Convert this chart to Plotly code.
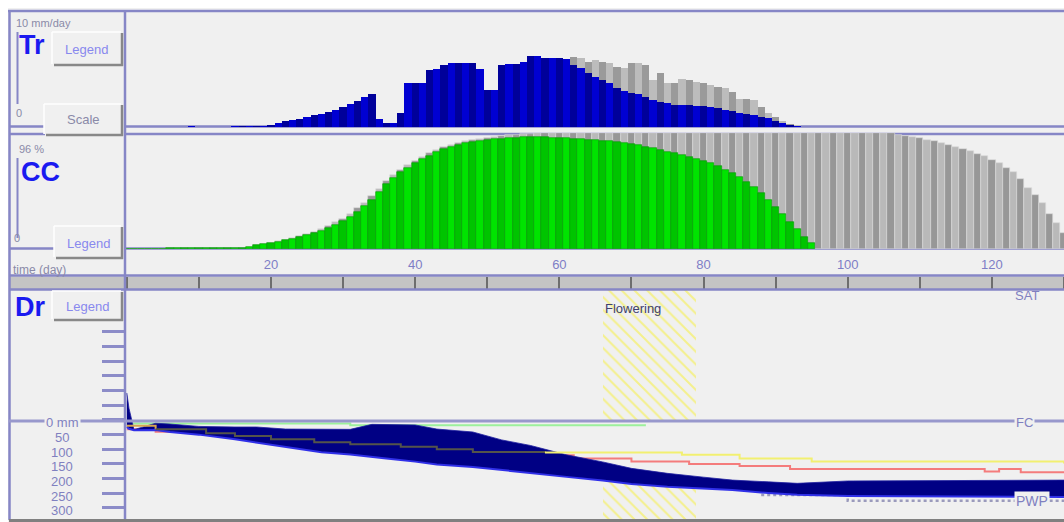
import plotly.graph_objects as go

W, H = 1064, 522

# ---------------- data ----------------
# Transpiration (mm/day), actual from day 0, potential from day 56
tr_actual = [0, 0, 0, 0, 0, 0, 0, 0, 0, 0.05, 0, 0, 0, 0, 0, 0.05, 0.05, 0.05, 0.05, 0.05,
             0.17, 0.37, 0.52, 0.6, 0.7, 0.87, 1.04, 1.17, 1.3, 1.48,
             1.7, 2.0, 2.26, 2.6, 2.87, 0.7, 0.39, 0.39, 1.2, 3.85,
             3.85, 3.85, 4.96, 5.04, 5.4, 5.57, 5.6, 5.6, 5.6, 5.05,
             3.2, 3.2, 5.4, 5.45, 5.48, 5.65, 6.17, 6.17, 6.0, 5.97,
             5.97, 5.9, 5.4, 5.1, 4.7, 4.35, 4.1, 3.85, 3.4, 3.1,
             3.0, 2.85, 2.65, 2.35, 2.2, 2.1, 1.95, 1.9, 1.9, 1.85,
             1.85, 1.75, 1.62, 1.5, 1.35, 1.25, 1.13, 1.05, 0.9, 0.75,
             0.55, 0.38, 0.15, 0.05]
tr_pot_start = 56
tr_potential = [6.17, 6.17, 6.04, 5.97, 5.97, 5.95, 6.1, 5.97, 5.68, 5.83,
                5.68, 5.54, 5.24, 5.1, 5.6, 5.54, 5.4, 4.09, 4.67, 3.8,
                3.8, 4.15, 4.09, 3.94, 3.8, 3.65, 3.45, 3.37, 3.07, 2.41,
                2.41, 2.35, 1.77, 1.19, 0.9, 0.55, 0.26, 0.09]

# Canopy cover (%), actual and potential, from day 0
cc_actual = [0, 0, 0, 0, 0, 0, 0.5, 0.5, 0.5, 0.5, 0.5, 0.5, 0.5, 1, 1, 1, 1,
             2, 3.5, 4.2, 5, 6.4, 7.5, 9, 10.5, 12, 13.5,
             15.5, 18, 21, 24, 28, 32, 37, 42, 49, 56,
             61, 66, 70, 74, 77.5, 80.5, 83.5, 86, 88, 89.5,
             91, 92, 93, 94, 94.5, 95, 95.5, 96, 96.3, 96.5,
             96.5, 96.3, 96, 95.7, 95.4, 95, 94.6, 94.2, 93.8, 93.3,
             92.8, 92.2, 91.4, 90.5, 89.4, 88.2, 86.8, 85.4, 84, 82.5,
             81, 79.5, 78, 76, 74, 71.5, 68.5, 65.5, 62, 58,
             53.5, 48.5, 42.5, 36, 30, 23.5, 17, 10.5, 5]
cc_potential = [0, 0, 0, 0, 0, 0, 0.5, 0.5, 0.5, 0.5, 0.5, 0.5, 0.5, 1, 1, 1, 1,      # 0-16
                2, 3.5, 4.5, 5.5, 7, 8, 9.5, 11, 13, 15,                               # 17-26
                17, 20, 23, 26, 30.5, 35, 40, 45.5, 52, 58.5,                          # 27-36
                63.5, 68, 72, 76, 79.5, 82.5, 85.5, 88, 90, 91.5,                      # 37-46
                93, 94, 95, 96, 96.8, 97.5, 98, 98.5, 99, 99.3,                        # 47-56
                99.6, 100, 100, 100, 100, 100, 100, 100, 100, 100,                     # 57-66
                100, 100, 100, 100, 100, 100, 100, 100, 100, 100,                      # 67-76
                100, 100, 100, 100, 100, 100, 100, 100, 100, 100,                      # 77-86
                100, 100, 100, 100, 100, 100, 100, 100, 100, 100,                      # 87-96
                100, 100, 100, 100, 100, 100, 100, 100, 100, 100,                      # 97-106
                98.5, 97.5, 96.3, 95.3, 94, 92.8, 91.3, 89.6, 88, 86.3,                # 107-116
                84.5, 82.3, 79.8, 77, 73.8, 70.2, 66.5, 60, 53, 46.5,                  # 117-126
                39.5, 30, 22, 14]                                                      # 127-130

# Root zone depletion band (mm below FC)
dr_days = [0, 0.3, 1, 4, 6, 10, 15, 18, 22, 27, 31, 34, 36, 40, 43, 48, 52, 56, 61,
           66, 70, 75, 80, 84, 89, 93, 100, 115, 130]
dr_upper = [-92, -40, 33, 11, 14, 22, 24, 24, 31, 32, 32, 15, 15, 17, 31, 41, 68, 87, 119,
            143, 165, 182, 195, 205, 211, 216, 208, 206, 205]
dr_lower = [24, 30, 35, 34, 41, 50, 66, 77, 93, 110, 118, 127, 131, 142, 152, 160, 171, 180, 194,
            206, 218, 228, 234, 239, 249, 255, 259, 261, 263]

# Thresholds (step lines)
stomata_days = [0, 4, 11, 15, 20, 26, 31, 38, 43, 48, 58, 67, 77, 85, 95, 130]
stomata_thr = [20, 32, 45, 55, 66, 76, 83, 91, 100, 109, 111, 111, 119, 131, 142, 148]
senes_days = [0, 4, 15, 25, 35, 45, 55, 61, 62, 70, 78, 85, 92, 119, 121, 124, 130]
senes_thr = [32, 40, 60, 80, 95, 110, 125, 120, 131, 142, 150, 157, 167, 176, 167, 178, 178]
expan_days = [0, 31, 72]
expan_thr = [12, 18, 18]
pwp_days = [88, 100, 130]
pwp_vals = [256, 275, 275]

flowering = (66, 79)
time_ticks = [20, 40, 60, 80, 100, 120]
minor_day_ticks = list(range(0, 131, 10))
dr_tick_vals = [-300, -250, -200, -150, -100, -50, 0, 50, 100, 150, 200, 250, 300]
dr_label_vals = [0, 50, 100, 150, 200, 250, 300]
dr_label_text = ["0 mm", "50", "100", "150", "200", "250", "300"]

# ---------------- helpers ----------------
def PX(x):
    return x / W

def PY(y):
    return 1 - y / H

DR_RANGE = [341, -443]
XR = [-0.25, 130]
PURPLE = "#8686c6"
FONT = "Liberation Sans"

def alt(n, c1, c2, start=0):
    return [c1 if (i + start) % 2 == 0 else c2 for i in range(n)]

fig = go.Figure()

# Tr
pot_x = list(range(tr_pot_start, tr_pot_start + len(tr_potential)))
fig.add_trace(go.Bar(x=pot_x, y=tr_potential, width=1,
                     marker=dict(color=alt(len(pot_x), "#9a9a9a", "#bcbcbc"), line=dict(width=0)),
                     xaxis="x", yaxis="y", showlegend=False))
fig.add_trace(go.Bar(x=list(range(len(tr_actual))), y=tr_actual, width=1,
                     marker=dict(color=alt(len(tr_actual), "#00009a", "#0000d2"), line=dict(width=0)),
                     xaxis="x", yaxis="y", showlegend=False))
# CC
fig.add_trace(go.Bar(x=list(range(len(cc_potential))), y=cc_potential, width=1,
                     marker=dict(color=alt(len(cc_potential), "#979797", "#b9b9b9"),
                                 line=dict(width=0.6, color="#dcdcdc")),
                     xaxis="x2", yaxis="y2", showlegend=False))
fig.add_trace(go.Bar(x=list(range(len(cc_actual))), y=cc_actual, width=1,
                     marker=dict(color=alt(len(cc_actual), "#00c400", "#00e400"),
                                 line=dict(width=0.6, color="#009a00")),
                     xaxis="x2", yaxis="y2", showlegend=False))
# Flowering hatch
fig.add_trace(go.Bar(x=[(flowering[0] + flowering[1]) / 2], y=[DR_RANGE[0] - DR_RANGE[1]],
                     base=[DR_RANGE[1]], width=[flowering[1] - flowering[0]],
                     marker=dict(color="rgba(0,0,0,0)", line=dict(width=0),
                                 pattern=dict(shape="\\", size=9, solidity=0.22,
                                              fgcolor="#f4f08c", bgcolor="rgba(0,0,0,0)",
                                              fillmode="replace")),
                     xaxis="x3", yaxis="y3", showlegend=False))
# mask between FC and lower band edge
fig.add_trace(go.Scatter(x=[0, 130], y=[0, 0], mode="lines", line=dict(width=0),
                         xaxis="x3", yaxis="y3", showlegend=False, hoverinfo="skip"))
fig.add_trace(go.Scatter(x=dr_days, y=dr_lower, mode="lines", line=dict(width=0),
                         fill="tonexty", fillcolor="#f0f0f0",
                         xaxis="x3", yaxis="y3", showlegend=False, hoverinfo="skip"))
# PWP, senescence, expansion
fig.add_trace(go.Scatter(x=pwp_days, y=pwp_vals, mode="lines", line_shape="hv",
                         line=dict(color="#9a9abc", width=2.5, dash="dot"),
                         xaxis="x3", yaxis="y3", showlegend=False))
fig.add_trace(go.Scatter(x=senes_days, y=senes_thr, mode="lines", line_shape="hv",
                         line=dict(color="#f47c7c", width=2),
                         xaxis="x3", yaxis="y3", showlegend=False))
fig.add_trace(go.Scatter(x=expan_days, y=expan_thr, mode="lines", line_shape="hv",
                         line=dict(color="#9cf09c", width=2),
                         xaxis="x3", yaxis="y3", showlegend=False))
# Dr band
fig.add_trace(go.Scatter(x=dr_days, y=dr_upper, mode="lines", line=dict(width=0.8, color="#2020a0"),
                         xaxis="x3", yaxis="y3", showlegend=False))
fig.add_trace(go.Scatter(x=dr_days, y=dr_lower, mode="lines", line=dict(width=2, color="#3030e8"),
                         fill="tonexty", fillcolor="#000084",
                         xaxis="x3", yaxis="y3", showlegend=False))
# stomata threshold: first segment, hidden-in-band segment, visible segment
fig.add_trace(go.Scatter(x=stomata_days[0:2], y=stomata_thr[0:2], mode="lines", line_shape="hv",
                         line=dict(color="#d6a450", width=2),
                         xaxis="x3", yaxis="y3", showlegend=False))
fig.add_trace(go.Scatter(x=stomata_days[1:11], y=stomata_thr[1:11], mode="lines", line_shape="hv",
                         line=dict(color="#54544a", width=2),
                         xaxis="x3", yaxis="y3", showlegend=False))
fig.add_trace(go.Scatter(x=stomata_days[10:], y=stomata_thr[10:], mode="lines", line_shape="hv",
                         line=dict(color="#f2f070", width=2),
                         xaxis="x3", yaxis="y3", showlegend=False))

xdom = [PX(125), 1]
fig.update_layout(
    width=W, height=H, autosize=False,
    margin=dict(l=0, r=0, t=0, b=0),
    paper_bgcolor="#f0f0f0", plot_bgcolor="rgba(0,0,0,0)",
    barmode="overlay", bargap=0,
    showlegend=False,
    font=dict(family=FONT),
    xaxis=dict(domain=xdom, range=XR, visible=False, anchor="y"),
    yaxis=dict(domain=[PY(127), PY(12)], range=[0, 10], visible=False, anchor="x"),
    xaxis2=dict(domain=xdom, range=XR, visible=False, anchor="y2"),
    yaxis2=dict(domain=[PY(249), PY(133)], range=[0, 100], visible=False, anchor="x2"),
    xaxis3=dict(domain=xdom, range=XR, anchor="y3", side="top", showgrid=False, zeroline=False,
                showline=False, tickmode="array", tickvals=time_ticks,
                ticktext=[str(v) for v in time_ticks],
                ticks="outside", ticklen=12, tickwidth=2, tickcolor="#6e6e6e",
                tickfont=dict(family=FONT, size=13, color="#7e7ec6"), ticklabelstandoff=3,
                minor=dict(tickmode="array", tickvals=minor_day_ticks, ticks="outside",
                           ticklen=12, tickwidth=2, tickcolor="#6e6e6e", showgrid=False)),
    yaxis3=dict(domain=[PY(520), PY(290)], range=DR_RANGE, anchor="x3", showgrid=False,
                zeroline=False, showline=False, tickmode="array", tickvals=dr_tick_vals,
                ticks="outside", ticklen=22, tickwidth=2.5, tickcolor="#8c8cc8",
                showticklabels=False),
)

shapes = []

def line(x0, y0, x1, y1, color=PURPLE, width=2.5, layer="above", dash=None):
    d = dict(type="line", xref="paper", yref="paper", x0=PX(x0), y0=PY(y0), x1=PX(x1), y1=PY(y1),
             line=dict(color=color, width=width), layer=layer)
    if dash:
        d["line"]["dash"] = dash
    shapes.append(d)

def rect(x0, y0, x1, y1, fill, layer="above"):
    shapes.append(dict(type="rect", xref="paper", yref="paper", x0=PX(x0), y0=PY(y0),
                       x1=PX(x1), y1=PY(y1), fillcolor=fill, line=dict(width=0), layer=layer))

# white outer strips
rect(0, 0, 1064, 8, "#ffffff", "below")
rect(0, 0, 8, 522, "#ffffff", "below")
# time bar
rect(9, 276.5, 1064, 289, "#c4c4c4", "below")
# panel borders
line(8, 11, 1064, 11)
line(9.5, 10, 9.5, 520)
line(125, 10, 125, 520)
line(9, 126.5, 45, 126.5)
line(125, 126.5, 1064, 126.5, layer="below")
line(9, 134, 45, 134)
line(125, 134, 1064, 134, layer="below")
line(9, 248.5, 55, 248.5)
line(125, 248.5, 1064, 248.5, layer="below")
line(9, 275.5, 1064, 275.5)
line(9, 289.5, 1064, 289.5)
line(9, 421, 1064, 421, color="#9898cc", width=3)
line(9, 520.5, 1064, 520.5, color="#808080", width=3)
# scale lines in left boxes
line(17.5, 32, 17.5, 104, width=2)
line(17.5, 158, 17.5, 238, width=2)

# buttons
def button(x0, y0, x1, y1):
    rect(x0, y0, x1, y1, "#f0f0f0")
    line(x0, y0, x1, y0, color="#ffffff", width=1.5)
    line(x0, y0, x0, y1, color="#ffffff", width=1.5)
    line(x0 + 2, y1 + 1, x1 + 2, y1 + 1, color="#888888", width=2.5)
    line(x1 + 1, y0 + 1, x1 + 1, y1 + 2, color="#888888", width=2.5)

button(52, 32, 121, 64)
button(44, 104, 121, 134)
button(54, 226, 121, 257)
button(52, 291, 121, 319)

fig.update_layout(shapes=shapes)

ann = []

def text(x, y, s, size=12, color="#8080c0", anchor="left", bold=False, bg=None):
    a = dict(xref="paper", yref="paper", x=PX(x), y=PY(y), text=("<b>%s</b>" % s) if bold else s,
             showarrow=False, xanchor=anchor, yanchor="middle",
             font=dict(family=FONT, size=size, color=color))
    if bg:
        a["bgcolor"] = bg
        a["borderpad"] = 1
    ann.append(a)

text(14, 23, "10 mm/day", 11, "#8a8aa8")
text(17, 45, "Tr", 27, "#1a1af0", bold=True)
text(86.5, 49, "Legend", 13, "#8888ee", "center")
text(14, 113, "0", 11, "#8a8aa8")
text(83, 120, "Scale", 13, "#8a8aa8", "center")
text(17, 149, "96 %", 11, "#8a8aa8")
text(19, 172, "CC", 27, "#1a1af0", bold=True)
text(12, 238, "0", 11, "#8a8aa8")
text(88, 244, "Legend", 13, "#8888ee", "center")
text(11, 270, "time (day)", 12, "#8a8aa8")
text(13, 307, "Dr", 27, "#1a1af0", bold=True)
text(87, 306, "Legend", 13, "#8888ee", "center")
text(1027, 295, "SAT", 13, "#8080c0", "center")
text(1024, 422, "FC", 13, "#8080c0", "center", bg="#f0f0f0")
text(1032, 501, "PWP", 14, "#8080c0", "center", bg="#f0f0f0")

# Dr tick labels through the Dr scale
for v, s in zip(dr_label_vals, dr_label_text):
    a = dict(xref="paper", yref="y3", x=PX(62), y=v, yshift=-3, text=s, showarrow=False,
             xanchor="center", yanchor="middle",
             font=dict(family=FONT, size=13, color="#8080c0"))
    if v == 0:
        a["bgcolor"] = "#f0f0f0"
        a["borderpad"] = 1
    ann.append(a)

# Flowering label
ann.append(dict(xref="x3", yref="paper", x=flowering[0], y=PY(308), text="Flowering",
                showarrow=False, xanchor="left", yanchor="middle",
                font=dict(family=FONT, size=13, color="#40406e")))

fig.update_layout(annotations=ann)

fig.write_html("out.html", config={"displayModeBar": False},
               post_script="document.body.style.margin='0px';")
